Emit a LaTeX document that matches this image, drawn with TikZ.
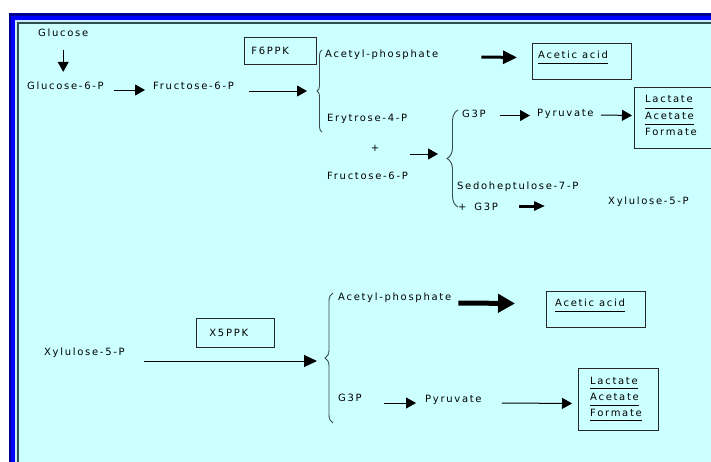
\documentclass[tikz,border=0pt]{standalone}
\usepackage{fontspec}
\setmainfont{DejaVu Sans}
\newfontfamily\pathfont[LetterSpace=17]{DejaVu Sans}
\usepackage{tikz}
\usetikzlibrary{arrows.meta,positioning,decorations.pathreplacing}
\definecolor{pathcyan}{HTML}{CCFFFF}
\definecolor{pathnavy}{HTML}{000090}
\definecolor{pathblue}{HTML}{0000FF}
\definecolor{pathpale}{HTML}{C8ECFF}
\definecolor{pathslate}{HTML}{2F4F4F}
\definecolor{pathgray}{HTML}{3A4A4A}

\begin{document}
\begin{tikzpicture}[x=1pt,y=-1pt,
  lbl/.style={font=\pathfont\fontsize{10}{12}\selectfont,inner sep=0pt,text height=7pt,text depth=0pt,anchor=west},
  box/.style={draw=black!85,line width=0.9pt,inner sep=0pt},
  arrow/.style={-{Triangle[length=10pt,width=11pt]},line width=1pt},
  bold/.style={-{Triangle[length=14pt,width=13pt]},line width=3pt},
  boldsmall/.style={-{Triangle[length=11pt,width=9pt]},line width=3pt},
  boldbig/.style={-{Triangle[length=17pt,width=18pt]},line width=5pt},
  brace/.style={decorate,decoration={brace,amplitude=#1},draw=pathgray,line width=0.9pt},
  uline/.style={line width=0.8pt}
]
\useasboundingbox (0,0) rectangle (711,461);
\clip (0,0) rectangle (711,461);
\fill[white] (0,0) rectangle (711,461);
\fill[pathnavy] (9,13) rectangle (720,470);
\fill[pathblue] (11,15.5) rectangle (720,470);
\fill[pathpale] (15,19.5) rectangle (720,470);
\fill[pathslate] (17.2,22.2) rectangle (720,470);
\fill[pathcyan] (18.5,23.5) rectangle (720,470);

\node[lbl] (glc) at (38,33) {Glucose};
\node[lbl] (g6p) at (27,86) {Glucose-6-P};
\node[lbl] (fru) at (153,86) {Fructose-6-P};
\node[box,lbl,text width=58pt,inner xsep=7pt,minimum height=27pt,anchor=west] (f6ppk) at (244,50.5) {F6PPK};
\draw[arrow] ([yshift=-13pt]glc.south) -- ([yshift=10.5pt]glc.south |- g6p.north);
\draw[arrow] ([shift={(10,4)}]g6p.east) -- ([shift={(-8,4)}]fru.west);

\coordinate (br1top) at (322,50);
\coordinate (br1bot) at (322,132);
\coordinate (br1) at (317,91);
\draw[brace=5pt] (br1bot) -- (br1top);
\draw[arrow] ([shift={(15,5)}]fru.east) -- ([xshift=-10pt]br1);

\node[lbl] (acp1) at (325,53.5) {Acetyl-phosphate};
\node[box,minimum width=99pt,minimum height=36pt,anchor=north west] (acbox1) at (532,43) {};
\node[lbl] (acid1) at (538,54.5) {Acetic acid};
\draw[uline] ([yshift=-5pt]acid1.south west) -- ([yshift=-5pt]acid1.south east);
\draw[bold] ([shift={(43,3.5)}]acp1.east) -- ([shift={(-15,-4)}]acbox1.west);

\node[lbl] (ery) at (327,117.5) {Erytrose-4-P};
\node[lbl,anchor=center] (plus) at (375,148) {+};
\node[lbl] (fru2) at (327,176) {Fructose-6-P};

\coordinate (br2top) at (458,110);
\coordinate (br2bot) at (458,207);
\coordinate (br2) at (447,158.5);
\draw[brace=11pt] (br2bot) -- (br2top);
\draw[arrow] ([shift={(31,6)}]plus.east) -- ([shift={(-9,-4.5)}]br2);

\node[lbl] (g3p1) at (462,113.5) {G3P};
\node[lbl] (pyr1) at (537,113) {Pyruvate};
\node[box,minimum width=78pt,minimum height=61pt,anchor=north west] (lbox1) at (634,87) {};
\node[lbl] (lac1) at (645,98.5) {Lactate};
\node[lbl] (ace1) at (645,116) {Acetate};
\node[lbl] (for1) at (645,131.5) {Formate};
\draw[uline] ([yshift=-6pt]lac1.south west) -- ([yshift=-6pt]lac1.south east);
\draw[uline] ([yshift=-4.5pt]ace1.south west) -- ([yshift=-4.5pt]ace1.south east);
\draw[arrow] ([shift={(14,2)}]g3p1.east) -- ([shift={(-7,2.5)}]pyr1.west);
\draw[arrow] ([shift={(7,2)}]pyr1.east) -- ([shift={(-2,-2.5)}]lbox1.west);

\node[lbl] (sedo) at (457,186) {Sedoheptulose-7-P};
\node[lbl] (sg3p) at (458,207) {+\hspace{3pt} G3P};
\node[lbl] (xyl1) at (608,201) {Xylulose-5-P};
\draw[boldsmall] ([shift={(21,-1)}]sg3p.east) -- ([shift={(-63,5)}]xyl1.west);

\node[lbl] (xyl2) at (44,351.5) {Xylulose-5-P};
\node[box,lbl,text width=52pt,inner xsep=13pt,minimum height=29pt,anchor=west] (x5ppk) at (196,332.5) {X5PPK};

\coordinate (br3top) at (333,293);
\coordinate (br3bot) at (333,423);
\coordinate (br3) at (325,358);
\draw[brace=8pt] (br3bot) -- (br3top);
\draw[arrow,-{Triangle[length=13pt,width=12pt]}] ([shift={(19,9.5)}]xyl2.east) -- ([shift={(-8,3)}]br3);

\node[lbl] (acp2) at (338,297) {Acetyl-phosphate};
\node[box,minimum width=99pt,minimum height=36pt,anchor=north west] (acbox2) at (546,291) {};
\node[lbl] (acid2) at (555,302.5) {Acetic acid};
\draw[uline] ([yshift=-5.5pt]acid2.south west) -- ([yshift=-5.5pt]acid2.south east);
\draw[boldbig] ([shift={(7,6)}]acp2.east) -- ([shift={(-31,-6)}]acbox2.west);

\node[lbl] (g3p2) at (338,398) {G3P};
\node[lbl] (pyr2) at (425,399) {Pyruvate};
\node[box,minimum width=80pt,minimum height=62pt,anchor=north west] (lbox2) at (578,368) {};
\node[lbl] (lac2) at (590,380.5) {Lactate};
\node[lbl] (ace2) at (590,397) {Acetate};
\node[lbl] (for2) at (590,412.5) {Formate};
\draw[uline] ([yshift=-4pt]lac2.south west) -- ([yshift=-4pt]lac2.south east);
\draw[uline] ([yshift=-4.5pt]ace2.south west) -- ([yshift=-4.5pt]ace2.south east);
\draw[uline] ([yshift=-4pt]for2.south west) -- ([yshift=-4pt]for2.south east);
\draw[arrow] ([shift={(22,5)}]g3p2.east) -- ([shift={(-9,4)}]pyr2.west);
\draw[arrow] ([shift={(20,4)}]pyr2.east) -- ([shift={(-6,4)}]lbox2.west);
\end{tikzpicture}
\end{document}
